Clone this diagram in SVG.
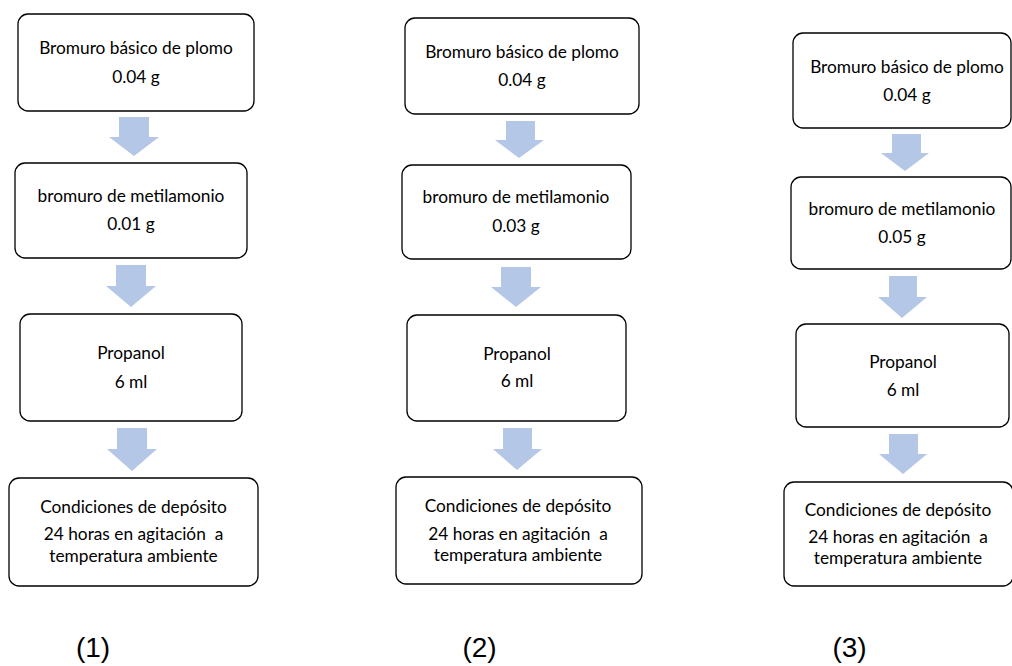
<svg xmlns="http://www.w3.org/2000/svg" width="1012" height="666" viewBox="0 0 1012 666">
<style>
.box{fill:#fff;stroke:#000;stroke-width:1.3}
.t{font-family:Lato,"Liberation Sans",sans-serif;font-size:17.3px;fill:#000;text-anchor:middle;white-space:pre}
.lbl{font-family:"Liberation Sans",Arial,sans-serif;font-size:28px;fill:#000;text-anchor:middle}
.arr{fill:#B4C7E7}
</style>
<rect width="1012" height="666" fill="#fff"/>
<g id="connectors">
<polygon class="arr" points="119,117 149,117 149,137 159,137 134,156 109,137 119,137"/>
<polygon class="arr" points="116,265 146,265 146,286 156,286 131,307 106,286 116,286"/>
<polygon class="arr" points="117,428 147,428 147,449 157,449 132,471 107,449 117,449"/>
<polygon class="arr" points="506,121 535,121 535,140 544,140 519,158 495,140 506,140"/>
<polygon class="arr" points="501,267 531,267 531,287 541,287 516,307 491,287 501,287"/>
<polygon class="arr" points="503,428 532,428 532,449 542,449 517,470 493,449 503,449"/>
<polygon class="arr" points="892,134 921,134 921,153 929,153 905,171 881,153 892,153"/>
<polygon class="arr" points="889,276 917,276 917,297 927,297 902,318 878,297 889,297"/>
<polygon class="arr" points="889,434 918,434 918,454 927,454 903,474 879,454 889,454"/>
</g>
<g id="c1-n1"><rect class="box" x="18" y="14" width="236" height="97" rx="10"/><text class="t" x="136" y="54">Bromuro básico de plomo</text><text class="t" x="136" y="83">0.04 g</text></g>
<g id="c1-n2"><rect class="box" x="15" y="163" width="232" height="95" rx="10"/><text class="t" x="131" y="202">bromuro de metilamonio</text><text class="t" x="131" y="230">0.01 g</text></g>
<g id="c1-n3"><rect class="box" x="20" y="314" width="222" height="107" rx="10"/><text class="t" x="131" y="359">Propanol</text><text class="t" x="131" y="388">6 ml</text></g>
<g id="c1-n4"><rect class="box" x="9" y="478" width="249" height="108" rx="10"/><text class="t" x="133.5" y="513">Condiciones de depósito</text><text class="t" x="133.5" y="540" xml:space="preserve">24 horas en agitación  a</text><text class="t" x="133.5" y="562">temperatura ambiente</text></g>
<g id="c2-n1"><rect class="box" x="405" y="18" width="234" height="96" rx="10"/><text class="t" x="522" y="58">Bromuro básico de plomo</text><text class="t" x="522" y="86">0.04 g</text></g>
<g id="c2-n2"><rect class="box" x="402" y="165" width="229" height="94" rx="10"/><text class="t" x="516" y="203">bromuro de metilamonio</text><text class="t" x="516" y="232">0.03 g</text></g>
<g id="c2-n3"><rect class="box" x="407" y="315" width="219" height="106" rx="10"/><text class="t" x="517" y="360">Propanol</text><text class="t" x="517" y="387">6 ml</text></g>
<g id="c2-n4"><rect class="box" x="396" y="477" width="246" height="107" rx="10"/><text class="t" x="518" y="512">Condiciones de depósito</text><text class="t" x="518" y="540" xml:space="preserve">24 horas en agitación  a</text><text class="t" x="518" y="561">temperatura ambiente</text></g>
<g id="c3-n1"><rect class="box" x="793" y="33" width="218" height="95" rx="10"/><text class="t" x="907" y="73">Bromuro básico de plomo</text><text class="t" x="907" y="101">0.04 g</text></g>
<g id="c3-n2"><rect class="box" x="791" y="177" width="220" height="92" rx="10"/><text class="t" x="902" y="215">bromuro de metilamonio</text><text class="t" x="902" y="243">0.05 g</text></g>
<g id="c3-n3"><rect class="box" x="796" y="324" width="213" height="103" rx="10"/><text class="t" x="903" y="368">Propanol</text><text class="t" x="903" y="396">6 ml</text></g>
<g id="c3-n4"><rect class="box" x="784" y="482" width="229" height="104" rx="10"/><text class="t" x="898" y="516">Condiciones de depósito</text><text class="t" x="898" y="543" xml:space="preserve">24 horas en agitación  a</text><text class="t" x="898" y="564">temperatura ambiente</text></g>
<g id="labels"><text class="lbl" x="93" y="657">(1)</text><text class="lbl" x="479.5" y="657">(2)</text><text class="lbl" x="849.5" y="657">(3)</text></g>
</svg>
